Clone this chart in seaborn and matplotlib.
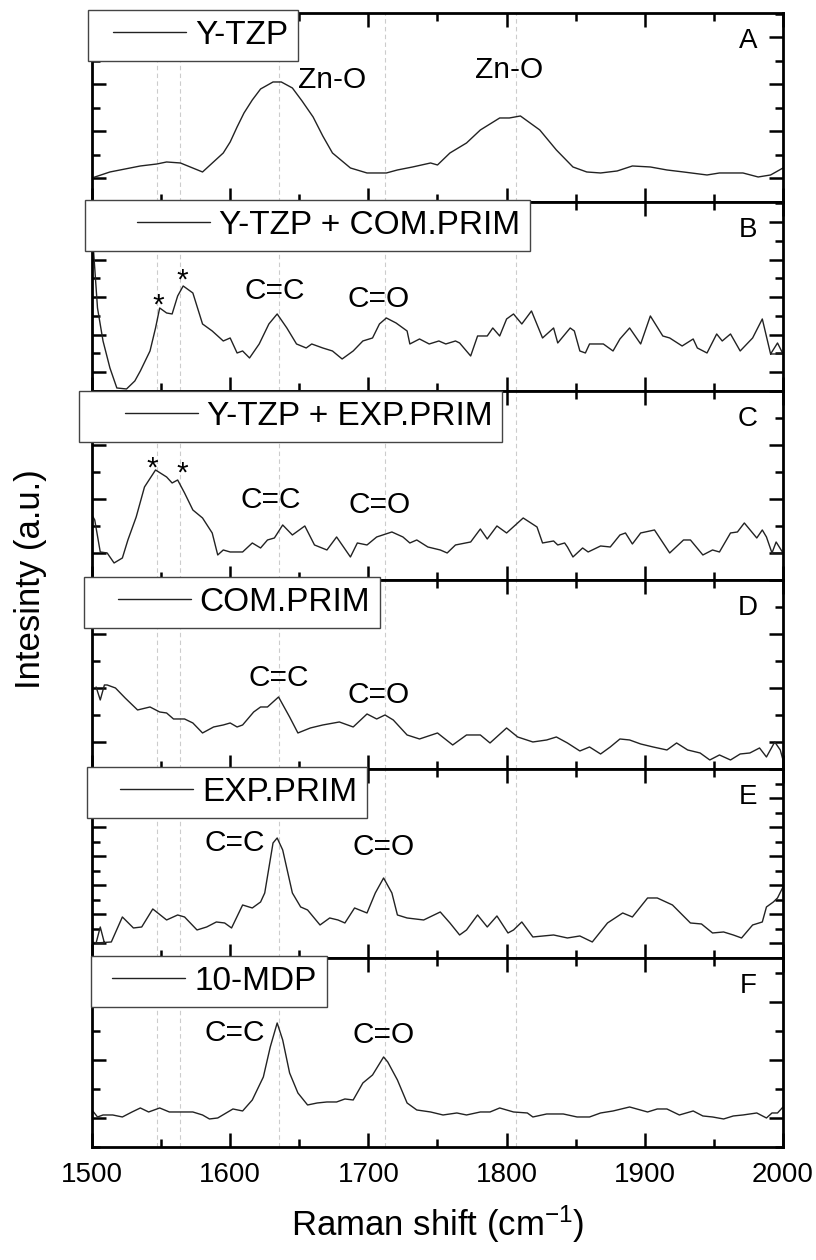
import numpy as np
import pandas as pd
import seaborn as sns
import matplotlib.pyplot as plt
from matplotlib.lines import Line2D
from matplotlib.legend_handler import HandlerLine2D
from matplotlib.ticker import MultipleLocator

# --- data (1500-2000 cm-1), intensity in arbitrary units ---

names = ["Y-TZP", "Y-TZP + COM.PRIM", "Y-TZP + EXP.PRIM", "COM.PRIM", "EXP.PRIM", "10-MDP"]
letters = ["A", "B", "C", "D", "E", "F"]

wn_a = [1500, 1513, 1535, 1547, 1554, 1564, 1580, 1595, 1600, 1605,
        1610, 1616, 1622, 1631, 1637, 1645, 1652, 1660, 1667, 1674,
        1687, 1699, 1713, 1721, 1732, 1745, 1750, 1759, 1771, 1781,
        1795, 1802, 1810, 1824, 1836, 1848, 1858, 1868, 1880, 1891,
        1904, 1916, 1928, 1945, 1954, 1971, 1982, 1991, 2000]
int_a = [24, 30, 36, 38, 40, 39, 30, 49, 60, 75,
         89, 102, 113, 120, 120, 114, 101, 85, 66, 49,
         34, 29, 29, 32, 35, 39, 37, 49, 59, 72,
         84, 84, 86, 72, 52, 35, 30, 29, 31, 36,
         35, 32, 30, 27, 29, 29, 25, 27, 34]

wn_b = [1500, 1501, 1504, 1508, 1513, 1518, 1525, 1531, 1535, 1542,
        1546, 1549, 1554, 1558, 1562, 1566, 1573, 1580, 1587, 1595,
        1600, 1605, 1609, 1614, 1621, 1628, 1634, 1641, 1648, 1655,
        1659, 1667, 1674, 1681, 1689, 1696, 1703, 1708, 1713, 1720,
        1728, 1730, 1737, 1744, 1751, 1756, 1763, 1766, 1774, 1779,
        1786, 1790, 1795, 1800, 1805, 1811, 1818, 1826, 1834, 1837,
        1846, 1849, 1853, 1857, 1860, 1870, 1877, 1882, 1889, 1897,
        1904, 1913, 1918, 1927, 1935, 1938, 1945, 1952, 1956, 1962,
        1969, 1978, 1985, 1991, 1996, 2000, 1991]
int_b = [240, 143, 83, 50, 23, 3, 2, 10, 20, 40,
         63, 83, 78, 77, 95, 105, 98, 67, 60, 50,
         53, 38, 40, 33, 47, 67, 77, 63, 47, 43,
         47, 43, 40, 32, 40, 50, 53, 67, 73, 68,
         60, 47, 52, 47, 50, 47, 50, 48, 35, 55,
         55, 63, 55, 72, 77, 67, 80, 53, 63, 48,
         63, 60, 40, 38, 47, 47, 40, 52, 63, 47,
         75, 55, 53, 45, 52, 43, 38, 57, 50, 57,
         40, 53, 72, 37, 48, 37, 37]

wn_c = [1500, 1502, 1506, 1511, 1516, 1522, 1526, 1532, 1538, 1546,
        1554, 1558, 1562, 1567, 1573, 1580, 1587, 1591, 1595, 1600,
        1609, 1616, 1622, 1627, 1632, 1638, 1645, 1654, 1661, 1670,
        1677, 1687, 1692, 1699, 1706, 1717, 1725, 1730, 1735, 1743,
        1752, 1757, 1763, 1774, 1781, 1786, 1793, 1800, 1812, 1822,
        1826, 1834, 1837, 1842, 1844, 1848, 1855, 1859, 1868, 1875,
        1882, 1886, 1891, 1897, 1907, 1918, 1928, 1933, 1942, 1949,
        1954, 1962, 1967, 1972, 1981, 1985, 1988, 1992, 1995, 2000,
        1992]
int_c = [65, 60, 28, 27, 17, 22, 40, 63, 93, 110,
         103, 97, 100, 87, 70, 62, 47, 25, 30, 28,
         28, 37, 32, 40, 42, 55, 45, 54, 35, 30,
         43, 23, 37, 35, 43, 48, 43, 37, 40, 33,
         30, 27, 35, 38, 51, 41, 54, 47, 62, 53,
         37, 39, 35, 37, 33, 23, 32, 28, 34, 33,
         45, 47, 36, 47, 50, 27, 40, 40, 25, 30,
         28, 47, 48, 57, 42, 50, 43, 27, 38, 27,
         27]

wn_d = [1503, 1506, 1509, 1511, 1517, 1524, 1533, 1542, 1549, 1554,
        1559, 1567, 1573, 1580, 1588, 1595, 1600, 1605, 1609, 1617,
        1622, 1627, 1635, 1643, 1649, 1658, 1667, 1679, 1689, 1699,
        1706, 1712, 1718, 1728, 1737, 1750, 1761, 1771, 1781, 1788,
        1800, 1808, 1819, 1829, 1836, 1844, 1853, 1860, 1868, 1875,
        1882, 1889, 1897, 1906, 1916, 1923, 1931, 1940, 1947, 1954,
        1962, 1969, 1976, 1983, 1988, 1994, 1998, 2000]
int_d = [82, 69, 84, 84, 81, 71, 59, 62, 57, 56,
         50, 50, 46, 36, 42, 44, 46, 42, 44, 57,
         62, 62, 72, 52, 36, 41, 44, 47, 42, 55,
         50, 54, 49, 34, 30, 36, 24, 34, 34, 26,
         41, 32, 27, 29, 32, 26, 18, 22, 15, 22,
         30, 29, 25, 22, 19, 26, 19, 16, 9, 14,
         9, 15, 16, 21, 12, 27, 19, 9]

wn_e = [1500, 1503, 1506, 1509, 1503, 1514, 1522, 1530, 1536, 1544,
        1554, 1562, 1567, 1576, 1583, 1590, 1596, 1601, 1609, 1616,
        1622, 1625, 1631, 1634, 1638, 1645, 1651, 1656, 1665, 1672,
        1678, 1683, 1690, 1699, 1705, 1711, 1717, 1721, 1728, 1740,
        1752, 1759, 1766, 1771, 1779, 1786, 1793, 1801, 1805, 1811,
        1819, 1834, 1844, 1853, 1862, 1873, 1884, 1891, 1902, 1909,
        1920, 1933, 1941, 1949, 1957, 1964, 1970, 1978, 1985, 1988,
        1993, 1996, 2000]
int_e = [16, 15, 31, 15, 15, 16, 41, 30, 31, 49,
         38, 43, 41, 28, 31, 36, 35, 30, 53, 50,
         56, 65, 115, 120, 108, 65, 51, 48, 33, 40,
         38, 35, 50, 45, 65, 80, 65, 43, 40, 38,
         46, 35, 23, 28, 43, 31, 42, 25, 28, 36,
         21, 23, 20, 22, 16, 35, 45, 41, 60, 60,
         53, 35, 34, 25, 26, 23, 20, 33, 36, 51,
         56, 60, 71]

wn_f = [1500, 1504, 1508, 1515, 1522, 1529, 1535, 1541, 1549, 1556,
        1566, 1573, 1580, 1585, 1591, 1602, 1609, 1616, 1624, 1629,
        1634, 1638, 1643, 1649, 1656, 1663, 1670, 1677, 1683, 1689,
        1696, 1703, 1711, 1714, 1721, 1728, 1735, 1745, 1754, 1764,
        1771, 1781, 1788, 1795, 1805, 1815, 1819, 1829, 1841, 1851,
        1860, 1868, 1877, 1889, 1902, 1909, 1916, 1925, 1935, 1942,
        1949, 1957, 1964, 1971, 1981, 1988, 1992, 1996, 2000]
int_f = [37, 30, 32, 32, 30, 35, 39, 35, 39, 35,
         35, 35, 32, 28, 29, 38, 36, 47, 70, 100,
         124, 107, 74, 54, 42, 44, 45, 45, 48, 47,
         64, 72, 90, 85, 67, 44, 37, 35, 32, 34,
         32, 35, 35, 39, 35, 34, 30, 33, 33, 30,
         30, 34, 36, 40, 35, 38, 38, 32, 36, 31,
         30, 28, 31, 32, 34, 29, 34, 34, 40]

# band labels: (text, wavenumber, height)
notes_a = [("Zn-O", 1674, 122), ("Zn-O", 1802, 132)]
notes_b = [("*", 1548, 85), ("*", 1565, 110), ("C=C", 1632, 100), ("C=O", 1707, 92)]
notes_c = [("*", 1544, 111), ("*", 1565, 106), ("C=C", 1629, 80), ("C=O", 1708, 75)]
notes_d = [("C=C", 1635, 91), ("C=O", 1707, 74)]
notes_e = [("C=C", 1603, 115), ("C=O", 1711, 111)]
notes_f = [("C=C", 1603, 114), ("C=O", 1711, 112)]

# dashed guide lines through the main bands
peak_lines = [1547, 1564, 1635, 1712, 1807]

# y tick step of each panel (the original has no y values)
y_steps = [23.5, 18.75, 27, 27, 14.5, 29]

# legend boxes were placed by hand in the original, so each one sits a bit differently
legend_x = [-0.006, -0.010, -0.019, -0.012, -0.007, -0.001]
legend_y = [1.016, 1.010, 1.000, 1.016, 1.010, 1.010]
legend_lead = [15, 42, 36, 24, 23, 11]   # px of empty space before the legend line

wns = [wn_a, wn_b, wn_c, wn_d, wn_e, wn_f]
ints = [int_a, int_b, int_c, int_d, int_e, int_f]
notes = [notes_a, notes_b, notes_c, notes_d, notes_e, notes_f]


class LeadLine(HandlerLine2D):
    # legend line that starts some way in from the frame
    def __init__(self, lead, **kw):
        super().__init__(**kw)
        self.lead = lead

    def create_artists(self, legend, orig_handle, xdescent, ydescent, width, height, fontsize, trans):
        arts = super().create_artists(legend, orig_handle, xdescent, ydescent,
                                      width, height, fontsize, trans)
        for a in arts:
            xs = np.asarray(a.get_xdata(), dtype=float)
            a.set_xdata(np.linspace(xs.min() + self.lead, xs.max(), len(xs)))
        return arts


sns.set_theme(style="ticks")
plt.rcParams["font.family"] = ["Liberation Sans", "DejaVu Sans"]
plt.rcParams["mathtext.default"] = "regular"
plt.rcParams["axes.linewidth"] = 2
plt.rcParams["text.color"] = "black"

fig, axes = plt.subplots(6, 1, figsize=(8.16, 12.6), dpi=100, sharex=True)
fig.subplots_adjust(left=0.1127, right=0.9596, bottom=0.0897, top=0.9897, hspace=0)

leg_fs = 24
line_pt = 73 * 0.72      # visible legend line, 73 px

for i, ax in enumerate(axes):
    for x in peak_lines:
        ax.axvline(x, color="#cccccc", lw=0.8, ls=(0, (4, 3)), zorder=0)

    df = pd.DataFrame({"wn": wns[i], "val": ints[i]})
    sns.lineplot(data=df, x="wn", y="val", ax=ax, color="#222222", lw=1.0,
                 sort=False, estimator=None, label=names[i])

    for text, x, y in notes[i]:
        ax.text(x, y, text, ha="center", va="center", fontsize=21.5, color="black")

    ax.text(0.949, 0.85, letters[i], transform=ax.transAxes, ha="center", va="center",
            fontsize=20, color="black")

    lead_pt = legend_lead[i] * 0.72
    hlen = (lead_pt + line_pt) / leg_fs
    leg = ax.legend(loc="upper left", bbox_to_anchor=(legend_x[i], legend_y[i]),
                    borderaxespad=0, fontsize=leg_fs, handlelength=hlen, handletextpad=0.27,
                    borderpad=0.3, fancybox=False, framealpha=1, edgecolor="#444444",
                    labelcolor="black", handler_map={Line2D: LeadLine(lead_pt)})
    leg.get_frame().set_linewidth(1.0)
    leg.set_zorder(10)

    ax.set_xlim(1500, 2000)
    ax.set_ylim(0, 189)
    ax.set_xlabel("")
    ax.set_ylabel("")

    ax.xaxis.set_major_locator(MultipleLocator(100))
    ax.xaxis.set_minor_locator(MultipleLocator(50))
    ax.yaxis.set_major_locator(MultipleLocator(2 * y_steps[i], offset=y_steps[i]))
    ax.yaxis.set_minor_locator(MultipleLocator(y_steps[i]))
    ax.tick_params(which="both", direction="in", top=True, right=True, left=True,
                   bottom=True, labelleft=False, width=1.8, color="black")
    ax.tick_params(which="major", length=10)
    ax.tick_params(which="minor", length=5.5)
    for s in ax.spines.values():
        s.set_color("black")

axes[-1].tick_params(axis="x", labelsize=20, pad=11, labelcolor="black")

fig.text(0.037, 0.54, "Intesinty (a.u.)", rotation=90, ha="center", va="center", fontsize=25)
fig.text(0.536, 0.028, "Raman shift (cm$^{-1}$)", ha="center", va="center", fontsize=25)

plt.savefig("out.png", dpi=100)
plt.close()
